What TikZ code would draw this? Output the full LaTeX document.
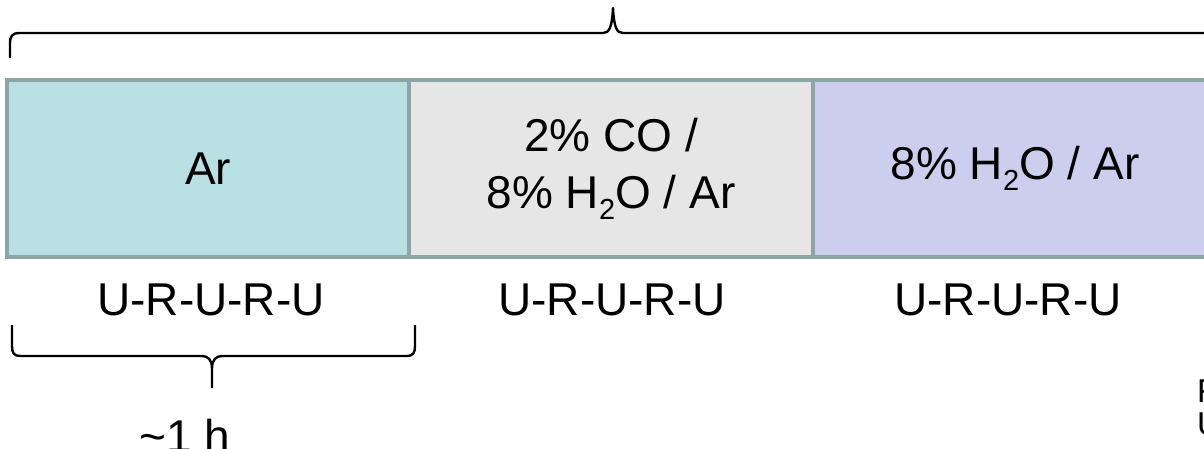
\documentclass[tikz,border=0pt]{standalone}
\usepackage{fontspec}
\setmainfont{Liberation Sans}
\newcommand\mysubtwo{\raisebox{-11pt}{\fontsize{29}{29}\selectfont 2}}
\definecolor{bordc}{HTML}{8CA5A5}
\definecolor{fillA}{HTML}{B9E0E3}
\definecolor{fillB}{HTML}{E6E6E6}
\definecolor{fillC}{HTML}{CDCDEE}
\tikzset{
  gasbox/.style={draw=bordc, line width=4pt, rectangle, inner sep=0pt,
    minimum height=177pt, align=center,
    font=\fontsize{46}{57}\selectfont},
  lbl/.style={anchor=base, inner sep=0pt, font=\fontsize{46}{55}\selectfont},
  small/.style={anchor=base west, inner sep=0pt, font=\fontsize{33}{33}\selectfont},
  brace/.style={draw=black, line width=2.4pt, line join=round}
}
\begin{document}
\begin{tikzpicture}[x=1pt,y=1pt]
\useasboundingbox (0,0) rectangle (1204,-449);
\clip (0,0) rectangle (1204,-449);
% top brace
\draw[brace] (10,-58) -- (10,-44) .. controls (10,-36) and (12,-33) .. (20,-33)
  -- (603,-33) .. controls (609,-33) and (612,-28) .. (613,-8)
  .. controls (614,-28) and (617,-33) .. (623,-33) -- (1240,-33);
% boxes
\node[gasbox, fill=fillA, minimum width=402pt] (b1) at (208,-168.5) {Ar};
\node[gasbox, fill=fillB, minimum width=404pt] (b2) at (611,-168.5) {2\% CO /\\8\% H\mysubtwo O / Ar};
\node[gasbox, fill=fillC, minimum width=404pt] (b3) at (1015,-168.5) {8\% H\mysubtwo O / Ar};
% labels
\node[lbl] (l1) at (211,-315) {U-R-U-R-U};
\node[lbl] (l2) at (612,-315) {U-R-U-R-U};
\node[lbl] (l3) at (1008,-315) {U-R-U-R-U};
% bottom brace
\coordinate (bl) at (12,-325);
\coordinate (br) at (415,-325);
\coordinate (bt) at (212,-388);
\draw[brace] (bl) -- (12,-346) .. controls (12,-353) and (14,-356) .. (20,-356)
  -- (202,-356) .. controls (208,-356) and (212,-360) .. (212,-368) -- (bt);
\draw[brace] (br) -- (415,-346) .. controls (415,-353) and (413,-356) .. (407,-356)
  -- (222,-356) .. controls (216,-356) and (212,-360) .. (212,-368);
\node[lbl] (t1) at (185,-452) {\textasciitilde 1 h};
\node[small] (f1) at (1197,-402) {F};
\node[small] (u1) at (1197,-435) {U};
\end{tikzpicture}
\end{document}
